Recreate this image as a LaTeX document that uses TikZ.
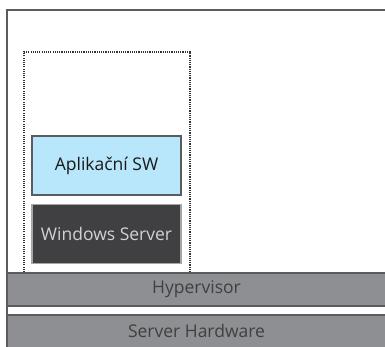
\documentclass[tikz,border=0pt]{standalone}
\usepackage{fontspec}
\setmainfont{Open Sans}
\usepackage{xcolor}
\definecolor{barfill}{HTML}{8E8F93}
\definecolor{barline}{HTML}{5C5C5E}
\definecolor{appfill}{HTML}{B8E6FA}
\definecolor{winfill}{HTML}{404043}

\begin{document}
\begin{tikzpicture}[x=1pt,y=-1pt,
	layer/.style={draw=barline,line width=1.6pt,fill=barfill},
	box/.style={draw,line width=1.6pt,minimum width=149pt,minimum height=59pt,inner sep=0pt},
	label/.style={font=\fontsize{17.5}{20}\selectfont}]
	\useasboundingbox (0,0) rectangle (385,346);
	\clip (0,0) rectangle (385,346);
	\draw[barline,line width=1.6pt] (7,350) -- (7,10) -- (390,10);
	
	\draw[black!80,line width=1.1pt,dash pattern=on 1.1pt off 1.1pt] (24,272) -- (24,52) -- (190,52) -- (190,272);
	
	\node[box,draw=barline,fill=appfill,label,text=black!90] (app) at (106.5,165.5) {Aplikační SW};
	\node[box,draw=gray!70,fill=winfill,label,text=gray!35] (win) at (106.5,234) {Windows Server};
	
	\draw[layer] (7,273) rectangle (390,306);
	\node[label,text=black!75] (hyp) at (196.5,289.5) {Hypervisor};
	\draw[layer] (7,315) rectangle (390,352);
	\node[label,text=black!75] (hw) at (196.5,331) {Server Hardware};
\end{tikzpicture}
\end{document}
